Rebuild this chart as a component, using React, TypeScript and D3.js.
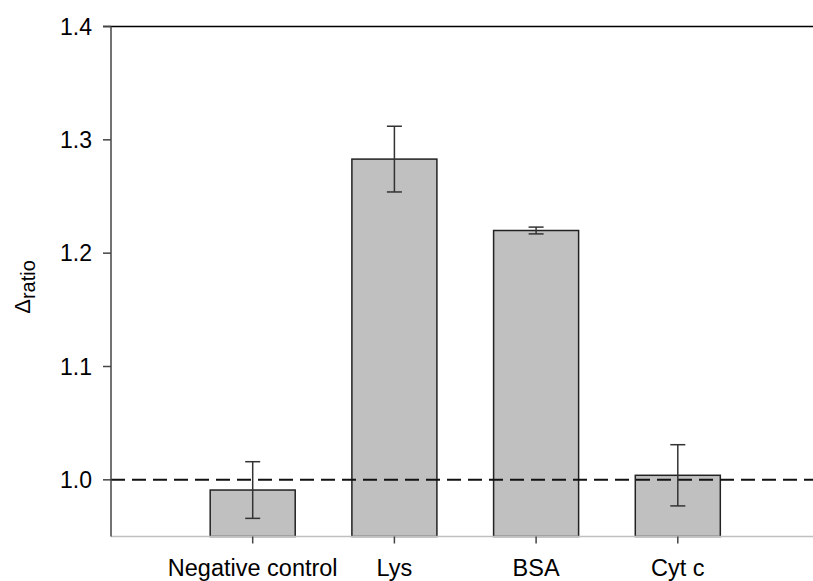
import React from "react";
import * as d3 from "d3";

const categories = ["Negative control", "Lys", "BSA", "Cyt c"];
const values = [0.991, 1.283, 1.22, 1.004];
const errors = [0.025, 0.029, 0.003, 0.027];
const yTicks = [1.0, 1.1, 1.2, 1.3, 1.4];
const referenceLine = 1.0;

const W = 813;
const H = 581;
const left = 111;
const top = 26.5;
const bottom = 536.5;
const rightEdge = 819.5;

export default function App() {
  const x = d3.scaleLinear().domain([0, categories.length + 1]).range([left, rightEdge]);
  const y = d3.scaleLinear().domain([0.95, 1.4]).range([bottom, top]);
  const step = x(1) - x(0);
  const bw = step * 0.6;
  const cap = 7.5;
  const font = "'Liberation Sans', Arial, sans-serif";

  return (
    <svg width={W} height={H} style={{ position: "absolute", left: 0, top: 0, background: "#fff" }}>
      {categories.map((c, i) => {
        const cx = x(i + 1);
        return (
          <rect
            key={c}
            x={cx - bw / 2}
            y={y(values[i])}
            width={bw}
            height={bottom - y(values[i])}
            fill="#c0c0c0"
            stroke="#222"
            strokeWidth={1.5}
          />
        );
      })}
      <line
        x1={left}
        x2={W}
        y1={y(referenceLine)}
        y2={y(referenceLine)}
        stroke="#111"
        strokeWidth={2}
        strokeDasharray="14,7"
      />
      {categories.map((c, i) => {
        const cx = x(i + 1);
        const hi = y(values[i] + errors[i]);
        const lo = y(values[i] - errors[i]);
        return (
          <g key={"e" + c} stroke="#333" strokeWidth={1.5}>
            <line x1={cx} x2={cx} y1={hi} y2={lo} />
            <line x1={cx - cap} x2={cx + cap} y1={hi} y2={hi} />
            <line x1={cx - cap} x2={cx + cap} y1={lo} y2={lo} />
          </g>
        );
      })}
      <line x1={left} x2={W} y1={bottom} y2={bottom} stroke="#c0c0c0" strokeWidth={1.5} />
      {categories.map((c, i) => (
        <g key={"t" + c}>
          <line x1={x(i + 1)} x2={x(i + 1)} y1={bottom} y2={bottom + 7} stroke="#444" strokeWidth={1.5} />
          <text x={x(i + 1)} y={576} textAnchor="middle" fontFamily={font} fontSize={23.5} fill="#000">
            {c}
          </text>
        </g>
      ))}
      <line x1={left - 8} x2={W} y1={top} y2={top} stroke="#000" strokeWidth={1.5} />
      <line x1={left} x2={left} y1={top} y2={bottom} stroke="#444" strokeWidth={1.5} />
      {yTicks.map((t) => (
        <g key={"y" + t}>
          <line x1={left - 8} x2={left} y1={y(t)} y2={y(t)} stroke="#444" strokeWidth={1.5} />
          <text
            x={left - 19}
            y={y(t)}
            dy="0.36em"
            textAnchor="end"
            fontFamily={font}
            fontSize={23}
            fill="#000"
          >
            {t.toFixed(1)}
          </text>
        </g>
      ))}
      <text
        transform={`translate(30, 287) rotate(-90)`}
        textAnchor="middle"
        fontFamily={font}
        fill="#000"
      >
        <tspan fontSize={22}>Δ</tspan>
        <tspan fontSize={20} dy={5}>ratio</tspan>
      </text>
    </svg>
  );
}
